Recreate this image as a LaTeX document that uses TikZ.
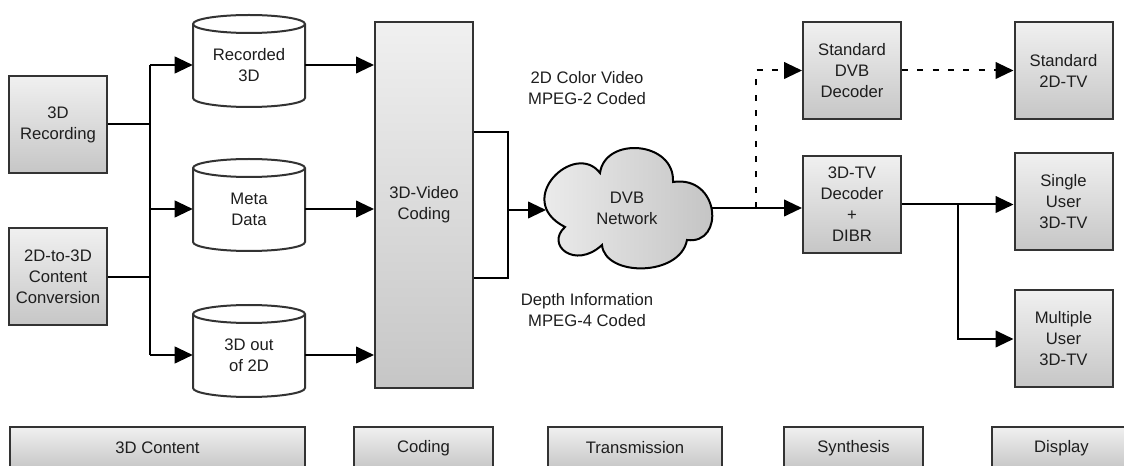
\documentclass[tikz,border=0pt]{standalone}
\usepackage{fontspec}
\setmainfont{Liberation Sans}
\usetikzlibrary{arrows.meta,calc}

\definecolor{boxtop}{HTML}{F0F0F0}
\definecolor{boxbot}{HTML}{C6C6C6}
\definecolor{frame}{HTML}{333333}
\definecolor{ink}{HTML}{1E1E1E}

\tikzset{
  x=0.75pt, y=-0.75pt,
  label text/.style={font=\fontsize{12.5pt}{15.75pt}\selectfont, text=ink, align=center},
  block/.style={label text, draw=frame, line width=1.5pt, top color=boxtop, bottom color=boxbot,
                minimum width=73.5pt, minimum height=72.75pt, inner sep=0pt},
  band/.style={label text, draw=frame, line width=1.5pt, top color=boxtop, bottom color=boxbot,
               minimum height=31.5pt, inner sep=0pt},
  dbtext/.style={label text, minimum width=84pt, minimum height=1pt, inner sep=0pt},
  dbline/.style={draw=frame, line width=1.5pt, fill=white},
  wire/.style={draw=black, line width=1.5pt},
  arr/.style={wire, -{Triangle[length=13.5pt,width=12.5pt]}},
  dashline/.style={dash pattern=on 4.5pt off 7pt},
}

% database drum: centre x, height of its in/out connectors
\newcommand\dbdrum[2]{%
  \filldraw[dbline] (#1-56,#2-41) -- (#1-56,#2+33)
     arc[start angle=180,end angle=360,x radius=42pt,y radius=6.75pt]
     -- (#1+56,#2-41)
     arc[start angle=0,end angle=180,x radius=42pt,y radius=6.75pt] -- cycle;
  \draw[dbline,fill=none] (#1-56,#2-41)
     arc[start angle=180,end angle=360,x radius=42pt,y radius=6.75pt];
}

\begin{document}
\begin{tikzpicture}
\useasboundingbox (0,0) rectangle (1124,466);
\clip (0,0) rectangle (1124,466);

% sources
\node[block] (rec)  at (58,124.5) {3D\\Recording};
\node[block] (conv) at (58,277)   {2D-to-3D\\Content\\Conversion};

% stored streams
\dbdrum{249}{65}
\node[dbtext] (dbrec)  at (249,65)  {Recorded\\3D};
\dbdrum{249}{209}
\node[dbtext] (dbmeta) at (249,209) {Meta\\Data};
\dbdrum{249}{355}
\node[dbtext] (dbout)  at (249,355) {3D out\\of 2D};

% coding
\node[block, minimum height=274.5pt] (vcode) at (424,205) {3D-Video\\Coding};

% transmission cloud
\filldraw[draw=black, line width=1.5pt, left color=gray!10, right color=gray!48]
  (600,173) .. controls (575,140) and (512,200) .. (565,227)
  .. controls (545,245) and (575,270) .. (602,245)
  .. controls (605,277) and (680,277) .. (687,240)
  .. controls (725,245) and (720,175) .. (673,182)
  .. controls (675,141) and (605,136) .. (600,173) -- cycle;
\node[label text] (net) at (627,208) {DVB\\Network};
\coordinate (netin)  at (546,210);
\coordinate (netout) at (711,208);

\node[label text] (lblcolor) at (587,88.5)  {2D Color Video\\MPEG-2 Coded};
\node[label text] (lbldepth) at (587,310.5) {Depth Information\\MPEG-4 Coded};

% synthesis
\node[block] (stddec) at (852,70.5)  {Standard\\DVB\\Decoder};
\node[block] (dec3d)  at (852,204.5) {3D-TV\\Decoder\\+\\DIBR};

% displays
\node[block] (tv2d)     at (1063.5,70.5) {Standard\\2D-TV};
\node[block] (tvsingle) at (1063.5,202)  {Single\\User\\3D-TV};
\node[block] (tvmulti)  at (1063.5,339)  {Multiple\\User\\3D-TV};

% stage bands
\node[band, minimum width=221.25pt] (bcontent) at (157.5,448)  {3D Content};
\node[band, minimum width=104.25pt] (bcoding)  at (423.5,448)  {Coding};
\node[band, minimum width=130.5pt]  (btrans)   at (635,448)    {Transmission};
\node[band, minimum width=104.25pt] (bsynth)   at (853.5,448)  {Synthesis};
\node[band, minimum width=104.25pt] (bdisp)    at (1061.5,448) {Display};

% content fan-out
\coordinate (bus)   at (150,0);
\coordinate (merge) at (508,210);
\coordinate (split) at (756,0);
\coordinate (fork)  at (958,0);

\draw[wire] (rec.east)  -- (rec.east -| bus);
\draw[wire] (conv.east) -- (conv.east -| bus);
\draw[wire] (dbrec.west -| bus) -- (dbout.west -| bus);
\draw[arr] (dbrec.west -| bus)  -- (dbrec.west);
\draw[arr] (dbmeta.west -| bus) -- (dbmeta.west);
\draw[arr] (dbout.west -| bus)  -- (dbout.west);

\draw[arr] (dbrec.east)  -- (dbrec.east -| vcode.west);
\draw[arr] (dbmeta.east) -- (dbmeta.east -| vcode.west);
\draw[arr] (dbout.east)  -- (dbout.east -| vcode.west);

% coded streams joined onto the network
\draw[wire] ($(vcode.east)+(0,-73)$) -| (merge) |- ($(vcode.east)+(0,73)$);
\draw[arr] (merge) -- (netin);

% receivers
\draw[arr] (netout) -- (netout -| dec3d.west);
\draw[arr, dashline] (netout -| split) |- (stddec.west);
\draw[arr, dashline] (stddec.east) -- (tv2d.west);

\draw[arr] (dec3d.east) -- (dec3d.east -| tvsingle.west);
\draw[arr] (dec3d.east -| fork) |- (tvmulti.west);
\end{tikzpicture}
\end{document}
